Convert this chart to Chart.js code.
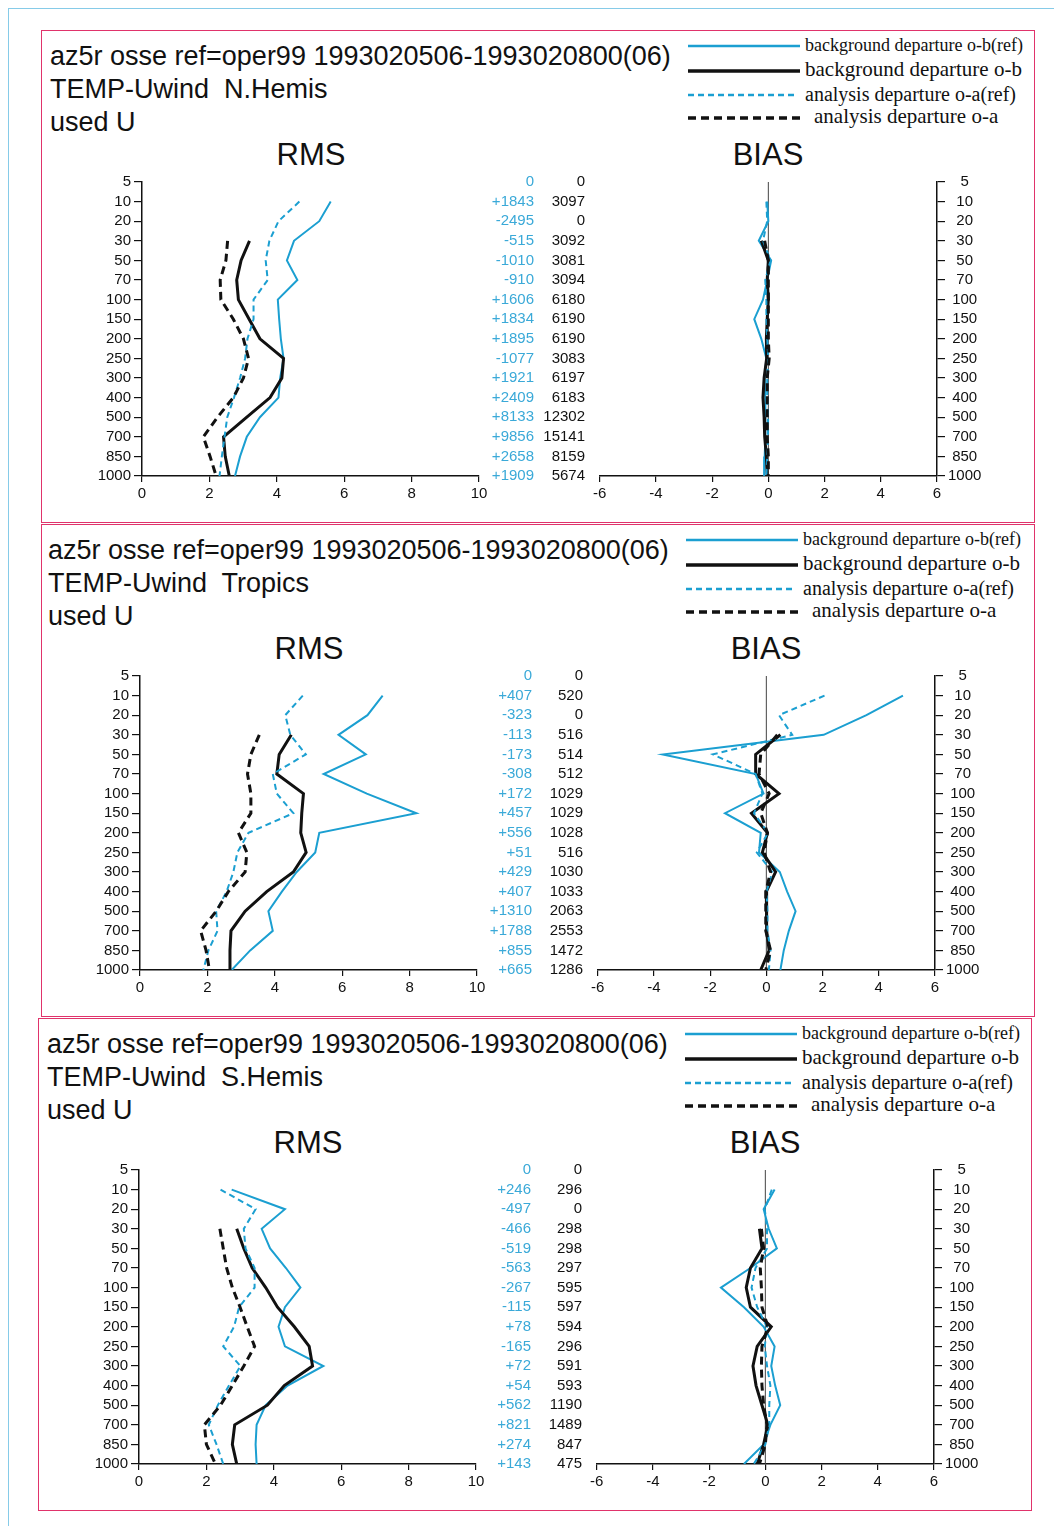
<!DOCTYPE html>
<html>
<head>
<meta charset="utf-8">
<script src="https://cdn.jsdelivr.net/npm/chart.js@4.4.1/dist/chart.umd.min.js"></script>
<style>
	html, body { margin: 0; padding: 0; background: #fff; }
	#page { position: relative; width: 1057px; height: 1526px; overflow: hidden; font-family: "Liberation Sans", Arial, sans-serif; color: #111; }
	.frame { position: absolute; border-top: 1.5px solid #86cbe8; border-left: 1.5px solid #86cbe8; }
	.box { position: absolute; border: 1.5px solid #e0336b; box-sizing: border-box; }
	.title { position: absolute; font-size: 27px; line-height: 33px; white-space: pre; }
	.head { position: absolute; font-size: 31px; line-height: 31px; transform: translateX(-50%); }
	.leg { position: absolute; font-family: "Liberation Serif", "Times New Roman", serif; white-space: pre; line-height: 1; }
	canvas { position: absolute; }
</style>
</head>
<body>
<div id="page"></div>
<script>
(function () {
	'use strict';

	/* ---------- Data ---------- */

	var LEVELS = ['5', '10', '20', '30', '50', '70', '100', '150', '200', '250', '300', '400', '500', '700', '850', '1000'];
	var RMS_TICKS = [0, 2, 4, 6, 8, 10];
	var BIAS_TICKS = [-6, -4, -2, 0, 2, 4, 6];

	var TITLE = 'az5r osse ref=oper99 1993020506-1993020800(06)';
	var VARIABLE = 'TEMP-Uwind';
	var USED = 'used U';
	var REGIONS = ['N.Hemis', 'Tropics', 'S.Hemis'];
	var LEGEND_LABELS = ['background departure o-b(ref)', 'background departure o-b', 'analysis departure o-a(ref)', 'analysis departure o-a'];

	// N.Hemis
	var NH_RMS_OB_REF = [null, 5.60, 5.26, 4.51, 4.30, 4.61, 4.03, 4.07, 4.12, 4.20, 4.10, 4.05, 3.50, 3.11, 2.91, 2.76];
	var NH_RMS_OB = [null, null, null, 3.19, 2.94, 2.81, 2.86, 3.18, 3.50, 4.20, 4.15, 3.80, 3.11, 2.42, 2.47, 2.59];
	var NH_RMS_OA_REF = [null, 4.67, 4.05, 3.78, 3.67, 3.73, 3.31, 3.31, 3.13, 3.06, 2.91, 2.73, 2.53, 2.45, 2.37, 2.30];
	var NH_RMS_OA = [null, null, null, 2.54, 2.49, 2.32, 2.34, 2.71, 3.01, 3.16, 3.01, 2.71, 2.24, 1.82, 2.02, 2.20];
	var NH_BIAS_OB_REF = [null, -0.04, 0.0, -0.34, 0.10, -0.04, -0.19, -0.50, -0.25, -0.07, -0.13, -0.11, -0.11, -0.10, -0.13, -0.15];
	var NH_BIAS_OB = [null, null, null, -0.25, 0.0, -0.04, 0.0, -0.04, -0.07, -0.06, -0.15, -0.19, -0.15, -0.13, -0.07, -0.04];
	var NH_BIAS_OA_REF = [null, -0.07, -0.04, -0.19, 0.08, -0.11, -0.07, -0.07, -0.04, 0.0, -0.04, -0.04, -0.01, -0.01, -0.04, -0.07];
	var NH_BIAS_OA = [null, null, null, -0.13, 0.0, 0.0, 0.0, 0.0, 0.0, 0.03, -0.04, -0.04, -0.04, -0.04, 0.0, 0.0];
	var NH_COUNT_DIFF = ['0', '+1843', '-2495', '-515', '-1010', '-910', '+1606', '+1834', '+1895', '-1077', '+1921', '+2409', '+8133', '+9856', '+2658', '+1909'];
	var NH_COUNT = ['0', '3097', '0', '3092', '3081', '3094', '6180', '6190', '6190', '3083', '6197', '6183', '12302', '15141', '8159', '5674'];

	// Tropics
	var TR_RMS_OB_REF = [null, 7.20, 6.75, 5.89, 6.70, 5.45, 6.73, 8.20, 5.32, 5.20, 4.65, 4.21, 3.81, 3.94, 3.27, 2.72];
	var TR_RMS_OB = [null, null, null, 4.49, 4.13, 4.06, 4.85, 4.80, 4.77, 4.93, 4.55, 3.76, 3.12, 2.70, 2.67, 2.67];
	var TR_RMS_OA_REF = [null, 4.83, 4.31, 4.46, 4.92, 3.94, 4.06, 4.55, 3.22, 2.89, 2.77, 2.57, 2.26, 2.30, 2.03, 1.88];
	var TR_RMS_OA = [null, null, null, 3.54, 3.29, 3.19, 3.29, 3.29, 2.92, 3.17, 3.12, 2.62, 2.26, 1.80, 1.96, 2.06];
	var TR_BIAS_OB_REF = [null, 4.86, 3.56, 2.04, -3.68, -0.38, -0.10, -1.47, -0.20, -0.26, 0.48, 0.74, 1.04, 0.80, 0.62, 0.50];
	var TR_BIAS_OB = [null, null, null, 0.50, -0.38, -0.38, 0.45, -0.53, 0.04, -0.14, 0.33, 0.0, 0.0, 0.02, 0.10, -0.20];
	var TR_BIAS_OA_REF = [null, 2.07, 0.45, 0.92, -1.90, -0.38, -0.14, -0.44, 0.06, -0.34, 0.21, 0.01, 0.04, 0.04, 0.15, 0.09];
	var TR_BIAS_OA = [null, null, null, 0.39, -0.20, -0.26, 0.10, -0.20, 0.04, -0.08, 0.15, -0.02, -0.02, -0.02, 0.15, -0.02];
	var TR_COUNT_DIFF = ['0', '+407', '-323', '-113', '-173', '-308', '+172', '+457', '+556', '+51', '+429', '+407', '+1310', '+1788', '+855', '+665'];
	var TR_COUNT = ['0', '520', '0', '516', '514', '512', '1029', '1029', '1028', '516', '1030', '1033', '2063', '2553', '1472', '1286'];

	// S.Hemis
	var SH_RMS_OB_REF = [null, 2.75, 4.33, 3.64, 3.89, 4.36, 4.79, 4.33, 4.14, 4.33, 5.47, 4.41, 3.76, 3.49, 3.46, 3.49];
	var SH_RMS_OB = [null, null, null, 2.90, 3.11, 3.36, 3.76, 4.11, 4.61, 5.05, 5.15, 4.31, 3.81, 2.84, 2.77, 2.90];
	var SH_RMS_OA_REF = [null, 2.42, 3.46, 3.11, 3.16, 3.43, 3.43, 2.97, 2.82, 2.50, 3.01, 2.67, 2.34, 2.07, 2.30, 2.50];
	var SH_RMS_OA = [null, null, null, 2.40, 2.50, 2.60, 2.77, 3.00, 3.21, 3.43, 3.11, 2.77, 2.42, 1.94, 2.00, 2.27];
	var SH_BIAS_OB_REF = [null, 0.33, -0.06, 0.12, 0.41, -0.53, -1.58, -0.76, -0.06, 0.33, 0.21, 0.35, 0.53, 0.18, -0.06, -0.76];
	var SH_BIAS_OB = [null, null, null, -0.21, -0.12, -0.53, -0.68, -0.53, 0.21, -0.29, -0.44, -0.33, -0.12, 0.09, -0.06, -0.29];
	var SH_BIAS_OA_REF = [null, 0.23, -0.02, 0.06, 0.06, -0.35, -0.49, -0.29, 0.06, -0.02, 0.06, 0.18, 0.14, 0.14, 0.0, -0.41];
	var SH_BIAS_OA = [null, null, null, -0.14, -0.06, -0.18, -0.14, -0.12, 0.09, -0.12, -0.14, -0.12, -0.06, 0.06, 0.0, -0.21];
	var SH_COUNT_DIFF = ['0', '+246', '-497', '-466', '-519', '-563', '-267', '-115', '+78', '-165', '+72', '+54', '+562', '+821', '+274', '+143'];
	var SH_COUNT = ['0', '296', '0', '298', '298', '297', '595', '597', '594', '296', '591', '593', '1190', '1489', '847', '475'];

	/* ---------- Styles ---------- */

	var CYAN = '#1b9fd1';
	var INK = '#111';
	var FONT = '"Liberation Sans", Arial, sans-serif';

	// Order: o-b(ref), o-b, o-a(ref), o-a
	var STYLES = [
		{ color: CYAN, width: 2, dash: [] },
		{ color: INK, width: 3, dash: [] },
		{ color: CYAN, width: 2, dash: [6, 4] },
		{ color: INK, width: 3, dash: [8, 5] },
	];
	var LEGEND_FONT = [18, 21, 20, 21];
	var LEGEND_TEXT_X = [805, 805, 805, 814];
	var LEGEND_ROW_Y = [46, 71, 95, 118];

	var PANELS = [
		{ region: REGIONS[0], dx: 0, dy: 0, boxDx: 0, rms: [NH_RMS_OB_REF, NH_RMS_OB, NH_RMS_OA_REF, NH_RMS_OA], bias: [NH_BIAS_OB_REF, NH_BIAS_OB, NH_BIAS_OA_REF, NH_BIAS_OA], diff: NH_COUNT_DIFF, count: NH_COUNT },
		{ region: REGIONS[1], dx: -2, dy: 494, boxDx: 0, rms: [TR_RMS_OB_REF, TR_RMS_OB, TR_RMS_OA_REF, TR_RMS_OA], bias: [TR_BIAS_OB_REF, TR_BIAS_OB, TR_BIAS_OA_REF, TR_BIAS_OA], diff: TR_COUNT_DIFF, count: TR_COUNT },
		{ region: REGIONS[2], dx: -3, dy: 988, boxDx: -3, rms: [SH_RMS_OB_REF, SH_RMS_OB, SH_RMS_OA_REF, SH_RMS_OA], bias: [SH_BIAS_OB_REF, SH_BIAS_OB, SH_BIAS_OA_REF, SH_BIAS_OA], diff: SH_COUNT_DIFF, count: SH_COUNT },
	];

	Chart.defaults.font.family = FONT;
	Chart.defaults.color = INK;

	var page = document.getElementById('page');

	/* ---------- Helpers ---------- */

	function el(tag, cls, css, text) {
		var e = document.createElement(tag);
		if (cls) {
			e.className = cls;
		}
		Object.keys(css || {}).forEach(function (k) {
			e.style[k] = css[k];
		});
		if (text !== undefined) {
			e.textContent = text;
		}
		page.appendChild(e);
		return e;
	}

	function toPoints(values) {
		var pts = [];
		values.forEach(function (v, i) {
			if (v !== null) {
				pts.push({ x: v, y: i });
			}
		});
		return pts;
	}

	function buildDatasets(series) {
		var sets = series.map(function (values, idx) {
			return {
				label: LEGEND_LABELS[idx],
				data: toPoints(values),
				showLine: true,
				borderColor: STYLES[idx].color,
				borderWidth: STYLES[idx].width,
				borderDash: STYLES[idx].dash,
				pointRadius: 0,
				fill: false,
				tension: 0,
			};
		});
		// Chart.js paints the first dataset last: keep black lines on top.
		return sets.reverse();
	}

	function axisX(ticks) {
		return {
			type: 'linear',
			min: ticks[0],
			max: ticks[ticks.length - 1],
			afterBuildTicks: function (s) {
				s.ticks = ticks.map(function (v) { return { value: v }; });
			},
			afterFit: function (s) { s.height = 30; },
			ticks: { color: INK, font: { size: 15 }, padding: 3, maxRotation: 0, autoSkip: false },
			grid: { display: true, drawOnChartArea: false, drawTicks: true, tickLength: 6, color: INK, lineWidth: 1.2 },
			border: { display: true, color: INK, width: 1.5 },
		};
	}

	function axisY(position, width) {
		return {
			type: 'linear',
			position: position,
			reverse: true,
			min: 0,
			max: LEVELS.length - 1,
			afterBuildTicks: function (s) {
				s.ticks = LEVELS.map(function (l, i) { return { value: i }; });
			},
			afterFit: function (s) { s.width = width; },
			ticks: {
				color: INK,
				font: { size: 15 },
				padding: 3,
				autoSkip: false,
				crossAlign: position === 'right' ? 'center' : 'near',
				callback: function (v) { return LEVELS[v]; },
			},
			grid: { display: true, drawOnChartArea: false, drawTicks: true, tickLength: 8, color: INK, lineWidth: 1.2 },
			border: { display: true, color: INK, width: 1.5 },
		};
	}

	function makeCanvas(left, top, w, h) {
		var c = el('canvas', null, { left: left + 'px', top: top + 'px' });
		c.width = w;
		c.height = h;
		return c;
	}

	/* ---------- Panels ---------- */

	function buildPanel(p) {
		var dx = p.dx;
		var dy = p.dy;

		el('div', 'box', { left: (41 + p.boxDx) + 'px', top: (30 + dy) + 'px', width: '994px', height: '493px' });

		el('div', 'title', { left: (50 + dx) + 'px', top: (40 + dy) + 'px' }, TITLE + '\n' + VARIABLE + '  ' + p.region + '\n' + USED);
		el('div', 'head', { left: (311 + dx) + 'px', top: (139 + dy) + 'px' }, 'RMS');
		el('div', 'head', { left: (768 + dx) + 'px', top: (139 + dy) + 'px' }, 'BIAS');

		// Legend
		LEGEND_LABELS.forEach(function (label, idx) {
			var y = LEGEND_ROW_Y[idx] + dy;
			var svgNS = 'http://www.w3.org/2000/svg';
			var svg = document.createElementNS(svgNS, 'svg');
			svg.setAttribute('width', '116');
			svg.setAttribute('height', '8');
			svg.style.position = 'absolute';
			svg.style.left = (686 + dx) + 'px';
			svg.style.top = (y - 4) + 'px';
			var line = document.createElementNS(svgNS, 'line');
			line.setAttribute('x1', '2');
			line.setAttribute('x2', idx === 2 ? '110' : '114');
			line.setAttribute('y1', '4');
			line.setAttribute('y2', '4');
			line.setAttribute('stroke', STYLES[idx].color);
			line.setAttribute('stroke-width', String(STYLES[idx].width + 0.5));
			if (STYLES[idx].dash.length) {
				line.setAttribute('stroke-dasharray', STYLES[idx].dash.join(' '));
			}
			svg.appendChild(line);
			page.appendChild(svg);

			var fs = LEGEND_FONT[idx];
			el('div', 'leg', { left: (LEGEND_TEXT_X[idx] + dx) + 'px', top: (y - fs * 0.55) + 'px', fontSize: fs + 'px' }, label);
		});

		// RMS chart with observation counts on its right
		var rmsCanvas = makeCanvas(60 + dx, 170 + dy, 540, 340);
		new Chart(rmsCanvas, {
			type: 'scatter',
			data: { datasets: buildDatasets(p.rms) },
			options: {
				responsive: false,
				animation: false,
				layout: { padding: { left: 0, right: 121, top: 10, bottom: 4 } },
				plugins: { legend: { display: false }, tooltip: { enabled: false } },
				scales: { x: axisX(RMS_TICKS), y: axisY('left', 82) },
			},
			plugins: [{
				id: 'counts',
				afterDraw: function (chart) {
					var ctx = chart.ctx;
					var yScale = chart.scales.y;
					var right = chart.chartArea.right;
					ctx.save();
					ctx.font = '15px ' + FONT;
					ctx.textAlign = 'right';
					ctx.textBaseline = 'middle';
					LEVELS.forEach(function (l, i) {
						var y = yScale.getPixelForValue(i);
						ctx.fillStyle = '#3aa9d8';
						ctx.fillText(p.diff[i], right + 55, y);
						ctx.fillStyle = INK;
						ctx.fillText(p.count[i], right + 106, y);
					});
					ctx.restore();
				},
			}],
		});

		// BIAS chart
		var biasCanvas = makeCanvas(590 + dx, 170 + dy, 420, 340);
		new Chart(biasCanvas, {
			type: 'scatter',
			data: { datasets: buildDatasets(p.bias) },
			options: {
				responsive: false,
				animation: false,
				layout: { padding: { left: 8, right: 0, top: 10, bottom: 4 } },
				plugins: { legend: { display: false }, tooltip: { enabled: false } },
				scales: { x: axisX(BIAS_TICKS), y: axisY('right', 73) },
			},
			plugins: [{
				id: 'zeroLine',
				beforeDatasetsDraw: function (chart) {
					var ctx = chart.ctx;
					var x = chart.scales.x.getPixelForValue(0);
					ctx.save();
					ctx.strokeStyle = '#444';
					ctx.lineWidth = 1;
					ctx.beginPath();
					ctx.moveTo(x, chart.chartArea.top);
					ctx.lineTo(x, chart.chartArea.bottom);
					ctx.stroke();
					ctx.restore();
				},
			}],
		});
	}

	el('div', 'frame', { left: '8px', top: '8px', width: '1045px', height: '1518px' });
	PANELS.forEach(buildPanel);
})();
</script>
</body>
</html>
